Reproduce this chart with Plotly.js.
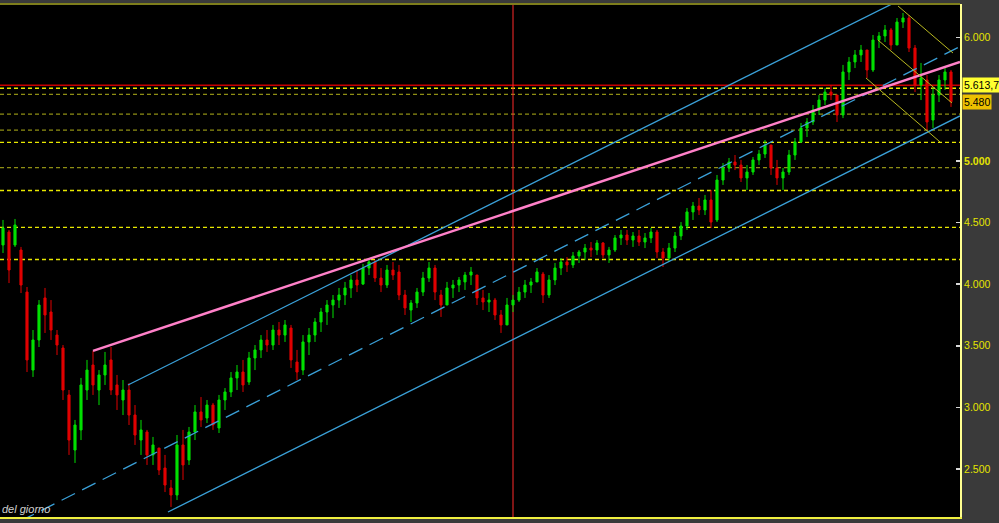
<!DOCTYPE html>
<html>
<head>
<meta charset="utf-8">
<script src="https://cdn.plot.ly/plotly-3.0.1.min.js"></script>
<style>html,body{margin:0;padding:0;background:#3a3a3a;}#chart{width:999px;height:523px;}</style>
</head>
<body>
<div id="chart"></div>
<script>
// ---- price bars (one bar per session, left to right) ----
const openVals = [4318,4423,4318,4277,3936,3303,3547,3888,3774,3587,
3482,3101,2654,2817,3141,3344,3141,3263,3385,3182,
3060,3141,2938,2735,2800,2614,2670,2508,2346,2289,
2695,2573,2800,2963,2914,3019,2833,3060,3125,3239,
3287,3206,3401,3466,3547,3506,3628,3587,3644,3368,
3303,3531,3587,3693,3774,3831,3871,3912,3969,4034,
4001,4131,4180,4050,3993,4115,4099,3912,3790,3847,
3936,4050,4131,3912,3831,3969,3993,4018,4074,4074,
3888,3855,3871,3750,3669,3831,3871,3936,3993,4018,
4082,3912,4034,4131,4180,4156,4229,4261,4293,4277,
4334,4237,4277,4375,4399,4358,4391,4342,4375,4423,
4261,4212,4293,4391,4472,4586,4634,4602,4683,4521,
4845,4943,4991,4967,4862,4910,5008,5056,5129,4943,
4862,4910,5048,5154,5267,5316,5413,5494,5559,5535,
5373,5722,5803,5860,5900,5738,5981,6014,6063,5941,
6127,6160,5916,5616,5657,5332,5535,5657,5722];
const highVals = [4521,4440,4529,4302,3977,3628,3871,3969,3871,3628,
3506,3141,2898,3239,3385,3458,3303,3450,3490,3263,
3222,3198,3019,2898,2817,2760,2654,2614,2411,2776,
2817,2841,3019,3084,3060,3036,3101,3157,3287,3344,
3385,3450,3506,3587,3628,3669,3693,3709,3669,3466,
3587,3644,3725,3807,3871,3912,3969,4018,4074,4115,
4164,4212,4196,4131,4156,4180,4156,3953,3871,3969,
4099,4180,4156,3953,4018,4034,4058,4099,4139,4074,
3953,3928,3888,3790,3888,3912,3977,4034,4050,4131,
4099,4074,4172,4212,4220,4261,4277,4326,4342,4358,
4342,4302,4399,4440,4440,4423,4440,4415,4456,4440,
4293,4334,4423,4504,4618,4667,4699,4724,4764,4886,
4983,5024,5048,5008,4967,5032,5089,5170,5129,5008,
4943,5089,5186,5308,5348,5454,5535,5592,5616,5535,
5779,5843,5900,5941,5900,6022,6046,6103,6079,6160,
6201,6184,5941,5795,5697,5592,5697,5762,5738];
const lowVals = [4253,4009,4302,3928,3287,3247,3490,3604,3547,3425,
3060,2614,2549,2735,3060,3101,3019,3182,3101,2979,
2938,2857,2695,2614,2533,2533,2451,2313,2192,2248,
2411,2533,2735,2841,2873,2817,2792,2979,3084,3141,
3125,3182,3303,3401,3450,3466,3506,3531,3320,3222,
3263,3425,3531,3612,3669,3725,3807,3831,3888,3936,
3993,4074,4018,3936,3969,4034,3871,3750,3693,3807,
3904,4018,3871,3734,3831,3888,3936,3953,3993,3831,
3790,3774,3709,3604,3669,3774,3855,3888,3928,4018,
3847,3888,3993,4074,4099,4131,4172,4196,4220,4237,
4212,4172,4261,4318,4318,4302,4310,4293,4334,4212,
4139,4180,4261,4358,4440,4521,4561,4561,4456,4504,
4805,4910,4926,4829,4764,4886,4967,5024,4886,4805,
4764,4886,5008,5146,5194,5292,5373,5454,5494,5316,
5348,5657,5754,5803,5673,5722,5916,5965,5900,5941,
6079,5884,5559,5494,5251,5267,5478,5576,5438];
const closeVals = [4456,4115,4480,3993,3385,3547,3831,3750,3628,3506,
3141,2735,2857,3182,3303,3182,3263,3344,3141,3101,
3141,2938,2776,2817,2614,2695,2492,2370,2289,2695,
2533,2800,2963,2898,3019,2857,3060,3125,3239,3287,
3182,3401,3466,3547,3506,3628,3587,3669,3385,3287,
3531,3587,3693,3774,3831,3871,3912,3969,4034,3993,
4131,4180,4050,3993,4115,4074,3912,3807,3847,3936,
4050,4131,3936,3831,3969,3993,4034,4074,4099,3888,
3855,3871,3750,3669,3831,3871,3936,3993,4018,4099,
3912,4034,4131,4180,4156,4229,4261,4293,4277,4334,
4237,4277,4375,4399,4358,4391,4342,4375,4423,4261,
4212,4293,4391,4472,4586,4634,4602,4683,4504,4845,
4943,4991,4967,4862,4910,5008,5056,5129,4943,4862,
4910,5048,5154,5267,5316,5413,5494,5559,5535,5373,
5722,5803,5860,5900,5738,5981,6014,6063,5941,6127,
6160,5916,5616,5673,5316,5535,5657,5722,5480];

// ---- axis ticks ----
const tickValues = [2500,3000,3500,4000,4500,5000,6000];
const tickLabels = ['2.500','3.000','3.500','4.000','4.500','<b>5.000</b>','6.000'];

// ---- horizontal levels ----
const brightLevels = [5590,5150,4760,4460,4200];
const dimLevels = [5540,5380,5250,4945];
const lastMark = 5613.7;      // red line + yellow tag
const closeMark = 5480;        // gold tag
const closeMarkText = '5.480';
const lastMarkText = '5.613,7';
const vLineSession = 85;       // vertical red marker (session index)

// ---- trend lines: [session0, price0, session1, price1] ----
const pinkLine     = [15.0, 3458, 159.5, 5803];
const blueUpper    = [20.83, 3182, 148.17, 6274];
const blueMiddle   = [-0.5, 1994, 159.5, 5928];
const blueLower    = [27.5, 2151, 159.5, 5365];
const oliveUpper   = [149.17, 6257, 158.33, 5876];
const oliveMiddle  = [145.83, 5981, 158.17, 5470];
const oliveLower   = [143.83, 5673, 156.17, 5154];

function seg(a, color, width, dash){
  return {type:'line', xref:'x', yref:'y', x0:a[0], y0:a[1], x1:a[2], y1:a[3],
          line:{color:color, width:width, dash:dash||'solid'}, layer:'above'};
}
const shapes = [];
brightLevels.forEach(v => shapes.push({type:'line', xref:'paper', yref:'y', x0:0, x1:1, y0:v, y1:v,
  line:{color:'#e8e800', width:1.3, dash:'4px,3px'}, layer:'below'}));
dimLevels.forEach(v => shapes.push({type:'line', xref:'paper', yref:'y', x0:0, x1:1, y0:v, y1:v,
  line:{color:'#8f8f14', width:1.3, dash:'4px,3px'}, layer:'below'}));
shapes.push({type:'line', xref:'paper', yref:'y', x0:0, x1:1, y0:lastMark, y1:lastMark,
  line:{color:'#c80000', width:1.6}, layer:'below'});
shapes.push({type:'line', xref:'x', yref:'paper', x0:vLineSession, x1:vLineSession, y0:0, y1:1,
  line:{color:'#ff2a2a', width:1}, layer:'below'});
shapes.push(seg(blueMiddle, '#3aa0d8', 1.3, '15px,8px'));
shapes.push(seg(blueUpper, '#3aa0d8', 1.3));
shapes.push(seg(blueLower, '#3aa0d8', 1.3));
shapes.push(seg(pinkLine, '#ff80c8', 2.4));
shapes.push(seg(oliveUpper, '#b8b820', 1));
shapes.push(seg(oliveMiddle, '#b8b820', 1));
shapes.push(seg(oliveLower, '#b8b820', 1));
// frame
shapes.push({type:'line', xref:'paper', yref:'paper', x0:0, x1:1, y0:1, y1:1,
  line:{color:'#7e7e1c', width:2}, layer:'above'});

const trace = {
  type:'candlestick',
  open: openVals, high: highVals, low: lowVals, close: closeVals,
  increasing:{line:{color:'#00e000', width:1}, fillcolor:'#00e000'},
  decreasing:{line:{color:'#e00000', width:1}, fillcolor:'#e00000'},
  whiskerwidth:0, hoverinfo:'skip', showlegend:false
};

const layout = {
  width:999, height:523,
  margin:{l:0, r:39, t:4, b:6, pad:0},
  paper_bgcolor:'#3a3a3a', plot_bgcolor:'#000000',
  showlegend:false, boxgap:0.5, hovermode:false,
  xaxis:{range:[-0.5,159.5], showticklabels:false, ticks:'', showgrid:false, zeroline:false,
         rangeslider:{visible:false}, showline:true, linecolor:'#f0f040', linewidth:2, fixedrange:true},
  yaxis:{range:[2110.5,6273.5], side:'right', tickmode:'array', tickvals:tickValues, ticktext:tickLabels,
         ticks:'inside', ticklen:4, tickwidth:1.5, tickcolor:'#d8d8d8',
         tickfont:{family:'Liberation Sans, Arial, sans-serif', size:10.5, color:'#e4e400'},
         showgrid:false, zeroline:false, showline:true, linecolor:'#ffff90', linewidth:2, fixedrange:true},
  shapes: shapes,
  annotations:[
    {xref:'paper', yref:'y', x:1, y:lastMark, xanchor:'left', yanchor:'middle', xshift:2, showarrow:false,
     text:lastMarkText, bgcolor:'#ffff30', borderpad:1, font:{family:'Liberation Sans, Arial, sans-serif', size:10.5, color:'#000'}},
    {xref:'paper', yref:'y', x:1, y:closeMark, xanchor:'left', yanchor:'middle', xshift:2, showarrow:false,
     text:closeMarkText, bgcolor:'#ecc000', borderpad:1, font:{family:'Liberation Sans, Arial, sans-serif', size:10.5, color:'#000'}},
    {xref:'paper', yref:'paper', x:0, y:0, xanchor:'left', yanchor:'bottom', xshift:0, yshift:0, showarrow:false,
     text:'<i>del giorno</i>', font:{family:'Liberation Sans, Arial, sans-serif', size:11, color:'#d0d0d0'}}
  ]
};

Plotly.newPlot('chart', [trace], layout, {displayModeBar:false, staticPlot:true});
</script>
</body>
</html>
